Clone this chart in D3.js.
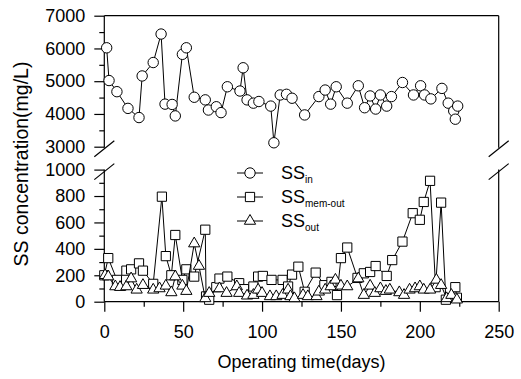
<!DOCTYPE html>
<html>
<head>
<meta charset="utf-8">
<script src="https://d3js.org/d3.v7.min.js" charset="utf-8"></script>
<style>
body { margin: 0; background: #fff; }
text { font-family: "Liberation Sans", Arial, sans-serif; fill: #000; }
</style>
</head>
<body>
<svg class="chart" width="521" height="379"></svg>
<script>
// SS in (upper panel)
var inDays = [1.5,3,8,15,22,24,31,36,38.5,43,45,49.5,52,57,64,66,71,74,78,86,88,90.5,94.5,98,105.5,107.5,111.5,115.5,119,127,136,140,143.5,147,154,161,165,168.5,172,175,179,182,189,196,200.5,203,207,214,218,221.5,222.5,224];
var inVals = [6020,5020,4680,4170,3890,5160,5570,6440,4300,4290,3940,5820,6020,4510,4430,4120,4220,4040,4830,4700,5410,4430,4330,4380,4240,3120,4580,4600,4480,3970,4530,4730,4300,4830,4330,4860,4190,4550,4150,4580,4240,4530,4960,4580,4860,4580,4460,4780,4330,4090,3840,4240];

// SS mem-out
var memDays = [0,2.5,8,14,17,22,24.5,31,36.5,39,42.5,45,49.5,52,57,64,64.5,66.5,71,73,78,85.5,88.5,94.5,97.5,100.5,106,113,116.5,119,123,127,134,139.5,144,147.5,150,154,160.5,164.5,168.5,172,179,182.5,189,195.5,200,202.5,206.5,210,213.5,216.5,222.5,223.5];
var memVals = [200,330,165,235,245,290,235,135,795,345,200,505,165,245,190,545,40,15,110,175,190,140,95,115,190,195,165,165,115,205,265,75,220,125,150,50,330,410,180,215,225,270,195,315,455,670,620,755,915,110,750,15,110,30];

// SS out
var outDays = [0.5,2.5,7,10,14,17,20.5,24.5,31,35,39,42.5,45,49.5,52,57,60,64,66.5,73,77.5,84,85.5,90.5,94.5,97.5,100,105,109,113,116.5,118,120.5,126,129,134.5,136,140,143.5,146.5,150,154,161,164.5,168.5,171.5,175,178.5,181,187,190,193.5,197,200,202.5,206.5,210.5,213.5,217,220,223.5];
var outVals = [200,190,115,110,115,175,90,125,90,100,120,70,190,120,80,440,270,25,65,100,65,115,65,45,50,90,65,40,40,50,90,40,25,50,40,40,75,90,115,165,120,115,175,50,120,65,100,80,90,70,50,90,100,115,90,90,165,125,25,50,15];

var xTicks = [0,50,100,150,200,250];
var topTicks = [3000,4000,5000,6000,7000];
var botTicks = [0,200,400,600,800,1000];

var svg = d3.select(".chart");

var x = d3.scaleLinear().domain([0,250]).range([104.3,498.7]);
var yTop = d3.scaleLinear().domain([3000,7000]).range([146.7,15.7]);
var yBot = d3.scaleLinear().domain([0,1000]).range([301.7,169.6]);

function zip(a, b) { return a.map(function(d,i){ return [d, b[i]]; }); }
var inData = zip(inDays, inVals);
var memData = zip(memDays, memVals);
var outData = zip(outDays, outVals);

// axes
function clean(g) {
	g.select(".domain").remove();
	g.selectAll("line").attr("stroke","#000").attr("stroke-width",1.2);
	g.selectAll("text").attr("font-size",18).attr("font-family","Liberation Sans, Arial, sans-serif");
}

svg.append("g").attr("transform","translate(" + x(0) + ",0)")
	.call(d3.axisLeft(yTop).tickValues(topTicks).tickSize(10).tickPadding(9).tickFormat(d3.format("d")))
	.call(clean);
svg.append("g").attr("transform","translate(" + x(0) + ",0)")
	.call(d3.axisLeft(yTop).tickValues(d3.range(3500,7000,1000)).tickSize(5).tickFormat(""))
	.call(clean);
svg.append("g").attr("transform","translate(" + x(0) + ",0)")
	.call(d3.axisLeft(yBot).tickValues(botTicks).tickSize(10).tickPadding(9).tickFormat(d3.format("d")))
	.call(clean);
svg.append("g").attr("transform","translate(" + x(0) + ",0)")
	.call(d3.axisLeft(yBot).tickValues(d3.range(100,1000,200)).tickSize(5).tickFormat(""))
	.call(clean);
svg.append("g").attr("transform","translate(0," + yBot(0) + ")")
	.call(d3.axisBottom(x).tickValues(xTicks).tickSize(10).tickPadding(14))
	.call(clean);
svg.append("g").attr("transform","translate(0," + yBot(0) + ")")
	.call(d3.axisBottom(x).tickValues(d3.range(25,250,50)).tickSize(5).tickFormat(""))
	.call(clean);

// frame lines with the break
var frame = svg.append("g").attr("stroke","#000").attr("stroke-width",1.2).attr("fill","none");
frame.append("line").attr("x1",x(0)).attr("x2",x(250)).attr("y1",yBot(0)).attr("y2",yBot(0));
frame.append("line").attr("x1",x(0)).attr("x2",x(250)).attr("y1",yTop(7000)).attr("y2",yTop(7000));
[x(0), x(250)].forEach(function(ax) {
	frame.append("line").attr("x1",ax).attr("x2",ax).attr("y1",yTop(7000)).attr("y2",yTop(3000)+1);
	frame.append("line").attr("x1",ax).attr("x2",ax).attr("y1",yBot(1000)).attr("y2",yBot(0));
	frame.append("line").attr("x1",ax-10).attr("x2",ax+10).attr("y1",yTop(3000)+10).attr("y2",yTop(3000)-6);
	frame.append("line").attr("x1",ax-10).attr("x2",ax+10).attr("y1",yBot(1000)+10).attr("y2",yBot(1000)-6);
});

// series
function symSize(shape) { return shape == d3.symbolTriangle ? 55 : 85; }
function series(data, y, shape, name) {
	svg.append("path").datum(data)
		.attr("fill","none").attr("stroke","#000").attr("stroke-width",1)
		.attr("d", d3.line().x(function(d){return x(d[0]);}).y(function(d){return y(d[1]);}));
	svg.selectAll(".m-" + name).data(data).enter()
		.append("path")
		.attr("class","m-" + name)
		.attr("transform", function(d){ return "translate(" + x(d[0]) + "," + y(d[1]) + ")"; })
		.attr("d", d3.symbol().type(shape).size(symSize(shape)))
		.attr("fill","#fff").attr("stroke","#000").attr("stroke-width",1);
}
series(inData, yTop, d3.symbolCircle, "in");
series(memData, yBot, d3.symbolSquare, "mem");
series(outData, yBot, d3.symbolTriangle, "out");

// legend
var legend = [
	{name:"in", shape:d3.symbolCircle},
	{name:"mem-out", shape:d3.symbolSquare},
	{name:"out", shape:d3.symbolTriangle}
];
var lg = svg.append("g").selectAll("g").data(legend).enter().append("g")
	.attr("transform", function(d,i){ return "translate(250," + (173 + i*24) + ")"; });
lg.append("line").attr("x1",-13).attr("x2",13).attr("stroke","#000").attr("stroke-width",1);
lg.append("path").attr("d", function(d){ return d3.symbol().type(d.shape).size(symSize(d.shape))(); })
	.attr("fill","#fff").attr("stroke","#000");
var lt = lg.append("text").attr("x",31).attr("y",6).attr("font-size",18);
lt.append("tspan").text("SS");
lt.append("tspan").attr("font-size",10).attr("dy",4).text(function(d){return d.name;});

// axis titles
svg.append("text").attr("x",(x(0)+x(250))/2).attr("y",368).attr("text-anchor","middle")
	.attr("font-size",18).text("Operating time(days)");
svg.append("text").attr("transform","translate(28,164) rotate(-90)").attr("text-anchor","middle")
	.attr("font-size",19.5).text("SS concentration(mg/L)");
</script>
</body>
</html>
